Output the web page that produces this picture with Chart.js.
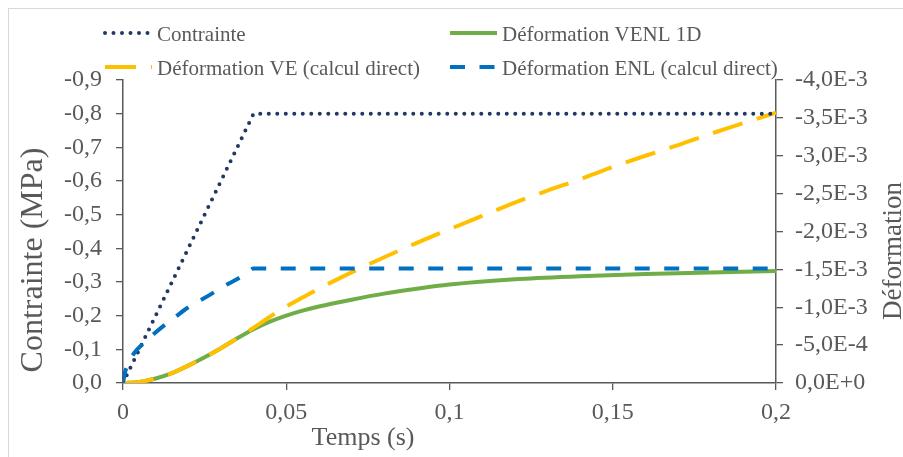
<!DOCTYPE html>
<html lang="fr">
<head>
<meta charset="utf-8">
<title>Contrainte et déformation</title>
<script src="https://cdn.jsdelivr.net/npm/chart.js@4.4.1/dist/chart.umd.min.js"></script>
<style>
  html, body { margin: 0; padding: 0; background: #fff; overflow: hidden; }
  #cadre { position: absolute; left: 8px; top: 8px; width: 1000px; height: 1000px; border: 1px solid #d9d9d9; }
  #conteneur { position: relative; width: 903px; height: 457px; }
</style>
</head>
<body>
<div id="cadre"></div>
<div id="conteneur"><canvas id="graphique"></canvas></div>
<script>
// Contrainte imposée (MPa)
const tempsContrainte = [0, 0.04, 0.2];
const contrainte = [0, -0.8, -0.8];

// Déformation VENL 1D
const tempsVENL = [0, 0.005, 0.01, 0.015, 0.02, 0.025, 0.03, 0.035, 0.04, 0.045, 0.05, 0.055, 0.06, 0.07, 0.08, 0.09, 0.1, 0.12, 0.14, 0.16, 0.18, 0.2];
const deformationVENL = [0, -1.5e-5, -6e-5, -1.3e-4, -2.3e-4, -3.4e-4, -4.6e-4, -5.9e-4, -7.1e-4, -8.1e-4, -8.9e-4, -9.55e-4, -1.01e-3, -1.10e-3, -1.18e-3, -1.245e-3, -1.30e-3, -1.37e-3, -1.41e-3, -1.44e-3, -1.46e-3, -1.48e-3];

// Déformation VE (calcul direct)
const tempsVE = [0, 0.005, 0.01, 0.015, 0.02, 0.025, 0.03, 0.035, 0.04, 0.045, 0.05, 0.055, 0.06, 0.065, 0.07, 0.08, 0.09, 0.1, 0.11, 0.12, 0.13, 0.14, 0.15, 0.16, 0.17, 0.18, 0.19, 0.2];
const deformationVE = [0, -1.5e-5, -6e-5, -1.3e-4, -2.3e-4, -3.4e-4, -4.6e-4, -5.9e-4, -7.3e-4, -8.75e-4, -1.01e-3, -1.13e-3, -1.245e-3, -1.355e-3, -1.46e-3, -1.66e-3, -1.85e-3, -2.03e-3, -2.205e-3, -2.38e-3, -2.54e-3, -2.69e-3, -2.85e-3, -3.0e-3, -3.14e-3, -3.29e-3, -3.43e-3, -3.57e-3];

// Déformation ENL (calcul direct)
const tempsENL = [0, 0.0005, 0.0016, 0.0035, 0.0062, 0.0095, 0.0129, 0.016, 0.02, 0.0236, 0.0272, 0.031, 0.0353, 0.038, 0.04, 0.2];
const deformationENL = [0, -1.2e-4, -2.6e-4, -4.0e-4, -5.2e-4, -6.5e-4, -7.7e-4, -8.7e-4, -1.0e-3, -1.09e-3, -1.18e-3, -1.28e-3, -1.38e-3, -1.45e-3, -1.51e-3, -1.51e-3];

const nomsSeries = ['Contrainte', 'Déformation VENL 1D', 'Déformation VE (calcul direct)', 'Déformation ENL (calcul direct)'];

const police = '"Liberation Serif", "Times New Roman", serif';
const gris = '#595959';

Chart.defaults.font.family = police;
Chart.defaults.color = gris;

const points = (xs, ys) => xs.map((x, i) => ({ x: x, y: ys[i] }));

// legende en grille 2 x 2 comme dans Excel
const legendeGrille = {
  id: 'legendeGrille',
  afterDraw(chart) {
    const ctx = chart.ctx;
    const cases = [[105, 33], [450, 33], [105, 67], [450, 67]];
    ctx.save();
    chart.data.datasets.forEach((ds, i) => {
      const [x, y] = cases[i];
      ctx.beginPath();
      ctx.strokeStyle = ds.borderColor;
      ctx.lineWidth = ds.borderWidth;
      ctx.lineCap = ds.borderCapStyle || 'butt';
      ctx.setLineDash(ds.borderDash || []);
      ctx.moveTo(x, y);
      ctx.lineTo(x + 47, y);
      ctx.stroke();
      ctx.setLineDash([]);
      ctx.fillStyle = gris;
      ctx.font = '21px ' + police;
      ctx.textAlign = 'left';
      ctx.textBaseline = 'alphabetic';
      ctx.fillText(ds.label, x + 52, y + 8);
    });
    ctx.restore();
  }
};

// titres des axes, places a la main
const titresAxes = {
  id: 'titresAxes',
  afterDraw(chart) {
    const ctx = chart.ctx;
    ctx.save();
    ctx.fillStyle = gris;
    ctx.textAlign = 'center';
    ctx.textBaseline = 'alphabetic';
    ctx.font = '26px ' + police;
    ctx.fillText('Temps (s)', 363, 445);

    ctx.save();
    ctx.translate(42, 260);
    ctx.rotate(-Math.PI / 2);
    ctx.font = '32px ' + police;
    ctx.fillText('Contrainte (MPa)', 0, 0);
    ctx.restore();

    ctx.save();
    ctx.translate(901, 251);
    ctx.rotate(-Math.PI / 2);
    ctx.font = '27px ' + police;
    ctx.fillText('Déformation', 0, 0);
    ctx.restore();
    ctx.restore();
  }
};

const ctx = document.getElementById('graphique').getContext('2d');
new Chart(ctx, {
  type: 'line',
  data: {
    datasets: [{
      label: nomsSeries[0],
      data: points(tempsContrainte, contrainte),
      yAxisID: 'y',
      borderColor: '#1F3864',
      borderWidth: 4,
      borderDash: [0, 8.5],
      borderCapStyle: 'round',
      pointRadius: 0,
      order: 1
    }, {
      label: nomsSeries[1],
      data: points(tempsVENL, deformationVENL),
      yAxisID: 'y2',
      borderColor: '#70AD47',
      borderWidth: 4,
      cubicInterpolationMode: 'monotone',
      pointRadius: 0,
      order: 3
    }, {
      label: nomsSeries[2],
      data: points(tempsVE, deformationVE),
      yAxisID: 'y2',
      borderColor: '#FFC000',
      borderWidth: 4,
      borderDash: [31, 15],
      cubicInterpolationMode: 'monotone',
      pointRadius: 0,
      order: 2
    }, {
      label: nomsSeries[3],
      data: points(tempsENL, deformationENL),
      yAxisID: 'y2',
      borderColor: '#0070C0',
      borderWidth: 4,
      borderDash: [15, 14.5],
      cubicInterpolationMode: 'monotone',
      pointRadius: 0,
      order: 0
    }]
  },
  options: {
    responsive: true,
    maintainAspectRatio: false,
    animation: false,
    layout: { padding: { top: 80, left: 0, right: 0, bottom: 0 } },
    plugins: {
      legend: { display: false },
      tooltip: { enabled: false }
    },
    scales: {
      x: {
        type: 'linear',
        min: 0,
        max: 0.2,
        afterFit: s => { s.height = 74; },
        grid: { drawOnChartArea: false, tickLength: 7, color: gris, lineWidth: 1.3 },
        border: { color: gris, width: 1.5 },
        ticks: {
          stepSize: 0.05,
          padding: 8,
          maxRotation: 0,
          font: { size: 24 },
          callback: v => parseFloat(v.toFixed(2)).toString().replace('.', ',')
        }
      },
      y: {
        position: 'left',
        min: -0.9,
        max: 0,
        reverse: true,
        afterFit: s => { s.width = 123; },
        grid: { drawOnChartArea: false, tickLength: 7, color: gris, lineWidth: 1.3 },
        border: { color: gris, width: 1.5 },
        ticks: {
          stepSize: 0.1,
          padding: 14,
          font: { size: 24 },
          callback: v => v.toFixed(1).replace('-0.0', '0.0').replace('.', ',')
        }
      },
      y2: {
        position: 'right',
        min: -0.004,
        max: 0,
        reverse: true,
        afterFit: s => { s.width = 127; },
        grid: { drawOnChartArea: false, tickLength: 7, color: gris, lineWidth: 1.3 },
        border: { color: gris, width: 1.5 },
        ticks: {
          stepSize: 0.0005,
          padding: 12,
          font: { size: 24 },
          callback: v => {
            if (Math.abs(v) < 1e-12) return '0,0E+0';
            return v.toExponential(1).replace('.', ',').replace('e', 'E');
          }
        }
      }
    }
  },
  plugins: [legendeGrille, titresAxes]
});
</script>
</body>
</html>
